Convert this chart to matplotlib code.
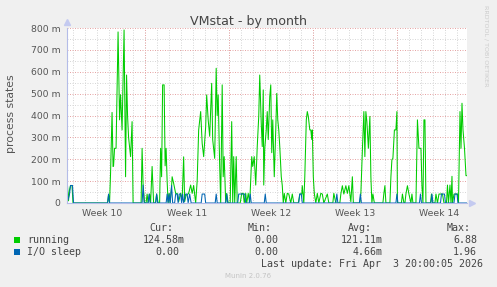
import matplotlib
matplotlib.use("Agg")
import matplotlib.pyplot as plt

W, H = 497, 287

# hours since left edge of graph (one pixel = 2 hours), values in milli
run_h = [0, 2, 4, 6, 8, 11, 13,
         82, 84, 86, 88, 91, 93, 94, 96, 99, 103, 106, 108, 111, 115, 118, 120, 122, 124, 128, 131, 133,
         149, 151, 153, 156, 159, 161, 163, 166, 168, 171, 174, 178, 180, 183, 186, 188, 190, 192, 195,
         197, 199, 201, 203, 205, 207, 210, 211, 214, 218, 221, 224, 228, 231, 234, 236, 239, 241, 244,
         248, 251, 254, 258, 261, 264, 268, 271, 274, 278, 280, 283, 286, 290, 292, 296, 299, 301, 303,
         306, 308, 311, 313, 315, 318, 320, 323, 327, 330, 332, 334, 336, 339, 341, 347, 350, 353, 355,
         358, 360, 363, 366, 370, 372, 375, 378, 381, 384, 386, 389, 391, 393, 394, 396, 399, 401, 403,
         406, 408, 410, 412, 415, 418, 420, 422, 424, 426, 429, 431, 433, 435, 438, 441, 444, 448, 451,
         454, 463, 466, 470, 471, 474, 476, 479, 481, 483, 486, 488, 490, 491, 493, 495, 498, 501, 504,
         508, 511, 514, 521, 524, 532, 534, 538, 546, 548, 551, 554, 558, 561, 564, 568, 571, 573, 586,
         588, 591, 594, 596, 598, 600, 603, 606, 608, 610, 612, 615, 632, 634, 636, 638, 646, 648, 650,
         652, 655, 658, 660, 661, 669, 671, 674, 676, 678, 681, 684, 688, 690, 692, 698, 701, 704, 708,
         710, 712, 714, 716, 718, 727, 729, 731, 736, 738, 741, 744, 748, 751, 754, 759, 761, 763, 766,
         768, 770, 771, 774, 778, 781, 783, 786, 788, 790, 792, 795, 798, 800]
run_v = [50, 80, 10, 60, 80, 80, 0,
         0, 37, 0, 136, 414, 167, 170, 250, 250, 782, 380, 495, 334, 791, 120, 585, 396, 300, 212, 372, 0,
         0, 250, 82, 0, 0, 41, 0, 41, 0, 167, 0, 0, 41, 0, 0, 250, 120, 540, 540,
         170, 250, 100, 0, 44, 0, 80, 120, 90, 44, 44, 6, 44, 14, 211, 6, 37, 37, 44,
         82, 44, 80, 0, 100, 334, 418, 273, 212, 349, 494, 380, 305, 547, 290, 204, 616, 400, 494,
         167, 0, 540, 120, 212, 0, 44, 0, 0, 372, 0, 212, 0, 212, 0, 0, 44, 44, 0,
         44, 0, 44, 0, 212, 167, 212, 82, 258, 396, 585, 364, 258, 517, 82, 250, 334, 418, 290,
         486, 540, 230, 380, 120, 334, 501, 380, 334, 258, 120, 80, 0, 44, 0, 44, 41, 0, 41,
         0, 0, 41, 41, 79, 0, 120, 380, 418, 396, 334, 334, 290, 334, 120, 44, 0, 44, 0,
         44, 41, 0, 41, 0, 0, 44, 0, 0, 41, 79, 41, 79, 44, 79, 6, 120, 0, 0,
         44, 240, 418, 212, 418, 372, 250, 396, 120, 0, 41, 0, 0, 44, 79, 0, 0, 120, 198,
         204, 334, 334, 418, 0, 0, 41, 0, 0, 41, 79, 41, 0, 41, 0, 0, 380, 250, 250,
         79, 0, 380, 380, 0, 0, 41, 0, 0, 41, 0, 41, 41, 41, 0, 0, 82, 0, 82,
         0, 122, 0, 41, 41, 41, 0, 418, 250, 456, 334, 250, 125, 125]

io_h = [0, 3, 6, 8, 12, 14, 82, 84, 86, 151, 153, 155, 163, 165, 167, 178, 180, 182, 199, 201, 203,
        205, 207, 210, 212, 216, 218, 221, 223, 225, 228, 230, 232, 234, 238, 241, 243, 246, 249,
        269, 271, 276, 278, 297, 299, 301, 318, 320, 322, 342, 344, 356, 358, 365, 367, 369, 395,
        397, 399, 464, 466, 469, 471, 538, 540, 542, 585, 587, 589, 658, 660, 662, 705, 707, 709,
        728, 730, 732, 747, 749, 755, 757, 774, 776, 780, 782, 800]
io_v = [55, 15, 40, 80, 80, 0, 0, 41, 0, 0, 82, 0, 0, 41, 0, 0, 41, 0, 0, 41, 0,
        41, 0, 80, 0, 0, 41, 41, 0, 41, 41, 0, 41, 0, 41, 41, 0, 41, 0,
        0, 41, 41, 0, 0, 41, 0, 0, 41, 0, 0, 41, 41, 0, 0, 41, 0, 0,
        41, 0, 0, 41, 41, 0, 0, 41, 0, 0, 41, 0, 0, 41, 0, 0, 41, 0,
        0, 41, 0, 0, 41, 41, 0, 0, 41, 41, 0, 0]

week_pos = [72, 240, 408, 576, 744]
week_labels = ["Week 10", "Week 11", "Week 12", "Week 13", "Week 14"]
y_ticks = [0, 100, 200, 300, 400, 500, 600, 700, 800]
y_labels = ["0", "100 m", "200 m", "300 m", "400 m", "500 m", "600 m", "700 m", "800 m"]

GREEN = "#00CC00"
BLUE = "#0066B3"
BG = "#F0F0F0"


def fx(x):
    return x / W


def fy(y):
    return 1 - y / H


def main():
    fig = plt.figure(figsize=(W / 100, H / 100), dpi=100, facecolor=BG)
    ax = fig.add_axes([fx(66.5), fy(203), (467 - 66.5) / W, 175 / H])
    ax.set_facecolor("white")
    ax.set_xlim(0, 800)
    ax.set_ylim(0, 800)

    # grid (rrdtool style, dotted)
    dot = (0, (1, 1.5))
    for h in range(12, 800, 24):
        ax.axvline(h, color="#d8d8d8", lw=0.72, ls=dot, zorder=1)
    for v in range(50, 800, 100):
        ax.axhline(v, color="#d8d8d8", lw=0.72, ls=dot, zorder=1)
    for h in range(156, 800, 168):
        ax.axvline(h, color="#e6a6a6", lw=0.72, ls=dot, zorder=1)
    for v in range(100, 801, 100):
        ax.axhline(v, color="#e6a6a6", lw=0.72, ls=dot, zorder=1)

    ax.plot(run_h, run_v, color=GREEN, lw=0.75, zorder=3)
    ax.plot(io_h, io_v, color=BLUE, lw=0.75, zorder=4)

    for s in ["top", "right"]:
        ax.spines[s].set_visible(False)
    for s in ["left", "bottom"]:
        ax.spines[s].set_color("#b4bce8")
        ax.spines[s].set_linewidth(0.8)
        ax.spines[s].set_zorder(5)
    ax.plot([0], [1.035], marker="^", color="#c4caf0", ms=4, transform=ax.transAxes, clip_on=False)
    ax.plot([1.012], [0], marker=">", color="#c4caf0", ms=4, transform=ax.transAxes, clip_on=False)

    ax.set_xticks(week_pos)
    ax.set_xticklabels(week_labels)
    ax.set_yticks(y_ticks)
    ax.set_yticklabels(y_labels)
    ax.tick_params(length=0, labelsize=6.7, colors="#555555")
    ax.tick_params(axis="x", pad=4)
    ax.tick_params(axis="y", pad=4.5)

    fig.text(fx(248.5), fy(24.5), "VMstat - by month", ha="center", va="baseline",
             fontsize=9.1, color="#444444")
    fig.text(fx(11), fy(114), "process states", rotation=90, ha="center", va="center",
             fontsize=7.8, color="#555555")
    fig.text(fx(486), fy(5), "RRDTOOL / TOBI OETIKER", rotation=-90, ha="center", va="top",
             fontsize=4.6, color="#cccccc")

    mono = dict(family="DejaVu Sans Mono", fontsize=7.2, color="#444444", va="baseline")
    fig.text(fx(149), fy(230.7), "Cur:", **mono)
    fig.text(fx(248), fy(230.7), "Min:", **mono)
    fig.text(fx(348), fy(230.7), "Avg:", **mono)
    fig.text(fx(447), fy(230.7), "Max:", **mono)

    rows = [
        (243.2, GREEN, "running", "124.58m", 185, "0.00", 278, "121.11m", 383, "6.88", 477),
        (255.3, BLUE, "I/O sleep", "0.00", 179, "0.00", 278, "4.66m", 383, "1.96", 477),
    ]
    for y, col, name, cur, xc, mn, xm, avg, xa, mx, xx in rows:
        fig.patches.append(plt.Rectangle((fx(14), fy(y)), 6 / W, 6 / H, transform=fig.transFigure,
                                         facecolor=col, edgecolor="none"))
        fig.text(fx(27), fy(y), name, **mono)
        fig.text(fx(xc), fy(y), cur, ha="right", **mono)
        fig.text(fx(xm), fy(y), mn, ha="right", **mono)
        fig.text(fx(xa), fy(y), avg, ha="right", **mono)
        fig.text(fx(xx), fy(y), mx, ha="right", **mono)

    fig.text(fx(483), fy(267), "Last update: Fri Apr  3 20:00:05 2026", ha="right", **mono)
    fig.text(fx(248), fy(278.5), "Munin 2.0.76", ha="center", va="baseline",
             fontsize=5, color="#c4c4c4")

    fig.savefig("out.png", dpi=100, facecolor=BG)


if __name__ == "__main__":
    main()
